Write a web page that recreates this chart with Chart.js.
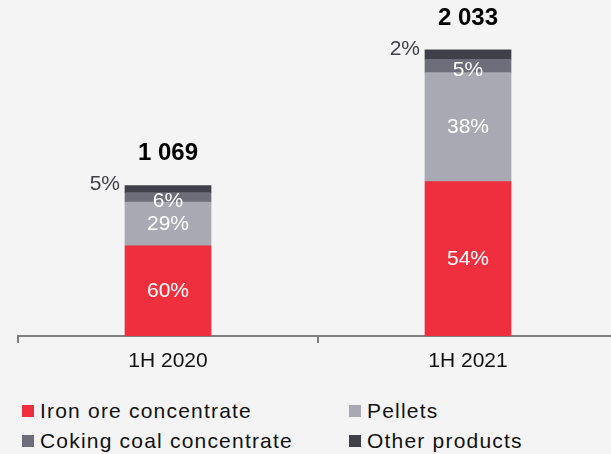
<!DOCTYPE html>
<html>
<head>
<meta charset="utf-8">
<script src="https://cdn.jsdelivr.net/npm/chart.js@4"></script>
<style>
  html, body { margin: 0; padding: 0; background: #f4f4f4; overflow: hidden; width: 611px; height: 454px; }
  #wrap { position: absolute; left: 0; top: 0; width: 624px; height: 380px; }
  #legende { position: absolute; left: 22px; top: 396px; display: grid; grid-template-columns: 327px auto; grid-auto-rows: 30px;
    font-family: "Liberation Sans", Arial, sans-serif; font-size: 21px; letter-spacing: 1.2px; color: #111; }
  #legende div { display: flex; align-items: center; white-space: nowrap; }
  #legende span { display: inline-block; width: 12px; height: 12px; margin-right: 6px; }
</style>
</head>
<body>
<div id="wrap"><canvas id="chart"></canvas></div>
<div id="legende"></div>
<script>
// Daten
const kategorien = ['1H 2020', '1H 2021'];
const eisenerz = [641, 1097];
const pellets = [311, 775];
const kokskohle = [67, 95];
const sonstige = [50, 66];

const eisenerzPct = ['60%', '54%'];
const pelletsPct = ['29%', '38%'];
const kokskohlePct = ['6%', '5%'];
const sonstigePct = ['5%', '2%'];
const summenText = ['1 069', '2 033'];

const namen = ['Iron ore concentrate', 'Pellets', 'Coking coal concentrate', 'Other products'];
const farben = ['#ef2f3e', '#a9a9b3', '#6e6e7a', '#40404a'];

const FONT = '"Liberation Sans", Arial, sans-serif';

// Beschriftungen in/neben den Balken + Summen oben
const beschriftung = {
  id: 'beschriftung',
  afterDatasetsDraw(chart) {
    const ctx = chart.ctx;
    ctx.save();
    ctx.textBaseline = 'middle';
    chart.data.datasets.forEach((ds, i) => {
      const meta = chart.getDatasetMeta(i);
      meta.data.forEach((bar, j) => {
        const { x, y, base, width } = bar.getProps(['x', 'y', 'base', 'width'], true);
        ctx.font = '21px ' + FONT;
        if (ds.labelModus === 'aussen') {
          ctx.fillStyle = '#404048';
          ctx.textAlign = 'right';
          ctx.fillText(ds.pctTexte[j], x - width / 2 - 5, y - 1);
        } else {
          ctx.fillStyle = '#ffffff';
          ctx.textAlign = 'center';
          ctx.fillText(ds.pctTexte[j], x, (y + base) / 2 + (ds.labelVersatz || 0));
        }
      });
    });
    // Summen
    const letzte = chart.getDatasetMeta(chart.data.datasets.length - 1);
    ctx.font = 'bold 24px ' + FONT;
    ctx.fillStyle = '#000';
    ctx.textAlign = 'center';
    letzte.data.forEach((bar, j) => {
      ctx.fillText(summenText[j], bar.x, bar.y - 32);
    });
    ctx.restore();
  }
};

const datasets = [
  { label: namen[0], data: eisenerz, backgroundColor: farben[0], pctTexte: eisenerzPct },
  { label: namen[1], data: pellets, backgroundColor: farben[1], pctTexte: pelletsPct },
  { label: namen[2], data: kokskohle, backgroundColor: farben[2], pctTexte: kokskohlePct, labelVersatz: 4 },
  { label: namen[3], data: sonstige, backgroundColor: farben[3], pctTexte: sonstigePct, labelModus: 'aussen' },
];

new Chart(document.getElementById('chart'), {
  type: 'bar',
  data: { labels: kategorien, datasets: datasets.map((d) => ({ ...d, barThickness: 86, borderWidth: 0 })) },
  options: {
    responsive: true,
    maintainAspectRatio: false,
    animation: false,
    layout: { padding: { left: 18, right: 6, top: 0, bottom: 0 } },
    plugins: { legend: { display: false }, tooltip: { enabled: false } },
    scales: {
      x: {
        stacked: true,
        grid: { display: true, drawOnChartArea: false, drawTicks: true, tickLength: 7, color: '#808080', lineWidth: 2, offset: true },
        border: { display: true, color: '#808080', width: 2 },
        ticks: { font: { family: FONT, size: 21 }, color: '#111', padding: 6 },
        afterFit: (s) => { s.height = 44; },
      },
      y: { stacked: true, display: false, min: 0, max: 2388 },
    },
  },
  plugins: [beschriftung],
});

// HTML-Legende
document.getElementById('legende').innerHTML = namen
  .map((n, i) => `<div><span style="background:${farben[i]}"></span>${n}</div>`)
  .join('');
</script>
</body>
</html>
